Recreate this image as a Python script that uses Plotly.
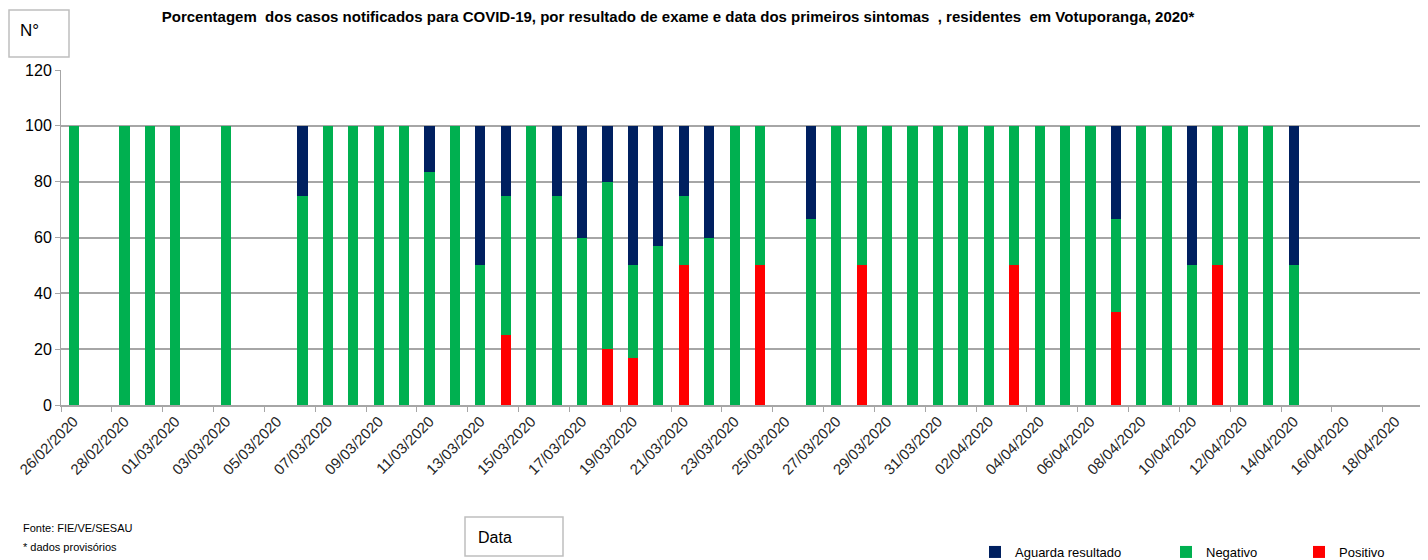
import plotly.graph_objects as go

dates = [
    "26/02/2020", "27/02/2020", "28/02/2020", "29/02/2020",
    "01/03/2020", "02/03/2020", "03/03/2020", "04/03/2020", "05/03/2020",
    "06/03/2020", "07/03/2020", "08/03/2020", "09/03/2020", "10/03/2020",
    "11/03/2020", "12/03/2020", "13/03/2020", "14/03/2020", "15/03/2020",
    "16/03/2020", "17/03/2020", "18/03/2020", "19/03/2020", "20/03/2020",
    "21/03/2020", "22/03/2020", "23/03/2020", "24/03/2020", "25/03/2020",
    "26/03/2020", "27/03/2020", "28/03/2020", "29/03/2020", "30/03/2020",
    "31/03/2020", "01/04/2020", "02/04/2020", "03/04/2020", "04/04/2020",
    "05/04/2020", "06/04/2020", "07/04/2020", "08/04/2020", "09/04/2020",
    "10/04/2020", "11/04/2020", "12/04/2020", "13/04/2020", "14/04/2020",
    "15/04/2020", "16/04/2020", "17/04/2020", "18/04/2020",
]

positivo = [
    0, 0, 0, 0,
    0, 0, 0, 0, 0,
    0, 0, 0, 0, 0,
    0, 0, 0, 25, 0,
    0, 0, 20, 16.7, 0,
    50, 0, 0, 50, 0,
    0, 0, 50, 0, 0,
    0, 0, 0, 50, 0,
    0, 0, 33.3, 0, 0,
    0, 50, 0, 0, 0,
    0, 0, 0, 0,
]

negativo = [
    100, 0, 100, 100,
    100, 0, 100, 0, 0,
    75, 100, 100, 100, 100,
    83.3, 100, 50, 50, 100,
    75, 60, 60, 33.3, 57.1,
    25, 60, 100, 50, 0,
    66.7, 100, 50, 100, 100,
    100, 100, 100, 50, 100,
    100, 100, 33.3, 100, 100,
    50, 50, 100, 100, 50,
    0, 0, 0, 0,
]

aguarda = [
    0, 0, 0, 0,
    0, 0, 0, 0, 0,
    25, 0, 0, 0, 0,
    16.7, 0, 50, 25, 0,
    25, 40, 20, 50, 42.9,
    25, 40, 0, 0, 0,
    33.3, 0, 0, 0, 0,
    0, 0, 0, 0, 0,
    0, 0, 33.4, 0, 0,
    50, 0, 0, 0, 50,
    0, 0, 0, 0,
]

# page body has an 8px margin: screen pixel = figure pixel + 8
OFF = 8
W, H = 1428 - OFF, 560 - OFF
L, R, T = 61 - OFF, 0, 70 - OFF
B = H - (405 - OFF)
plot_w = W - L - R
plot_h = H - T - B


def px(x):
    """screen x (px) -> paper x"""
    return (x - OFF - L) / plot_w


def py(y):
    """screen y (px) -> paper y"""
    return (H - B - (y - OFF)) / plot_h


def cx(x):
    return (x - OFF) / W


def cy(y):
    return 1 - (y - OFF) / H


FONT = "Liberation Sans"

fig = go.Figure()
fig.add_trace(go.Bar(x=dates, y=positivo, name="Positivo",
                     marker=dict(color="#FF0000", line=dict(width=0)),
                     legend="legend3"))
fig.add_trace(go.Bar(x=dates, y=negativo, name="Negativo",
                     marker=dict(color="#00B050", line=dict(width=0)),
                     legend="legend2"))
fig.add_trace(go.Bar(x=dates, y=aguarda, name="Aguarda resultado",
                     marker=dict(color="#002060", line=dict(width=0)),
                     legend="legend"))

leg_common = dict(orientation="h", xref="container", yref="container",
                  xanchor="left", yanchor="middle", bgcolor="rgba(0,0,0,0)",
                  font=dict(family=FONT, size=13, color="#000000"),
                  itemwidth=30)

fig.update_layout(
    width=W, height=H,
    margin=dict(l=L, r=R, t=T, b=B),
    paper_bgcolor="white", plot_bgcolor="white",
    barmode="stack", bargap=0.6,
    showlegend=True,
    title=dict(
        text="Porcentagem  dos casos notificados para COVID-19, por resultado de exame e data dos primeiros sintomas  , residentes  em Votuporanga, 2020*",
        xref="container", yref="container",
        x=cx(678), y=cy(17), xanchor="center", yanchor="middle",
        font=dict(family=FONT, size=15, color="#000000", weight="bold"),
    ),
    legend=dict(x=cx(975), y=cy(552), **leg_common),
    legend2=dict(x=cx(1166), y=cy(552), **leg_common),
    legend3=dict(x=cx(1299), y=cy(552), **leg_common),
    xaxis=dict(
        type="category",
        tickmode="linear", tick0=0, dtick=2,
        tickson="boundaries",
        ticks="outside", ticklen=5, tickcolor="#a6a6a6", tickwidth=1,
        showline=True, linecolor="#a6a6a6", linewidth=1.5,
        showgrid=False,
        tickangle=-45,
        tickfont=dict(family=FONT, size=15, color="#262626"),
        range=[-0.5, 53.28],
    ),
    yaxis=dict(
        range=[0, 120], dtick=20, tick0=0,
        showgrid=True, gridcolor="#a6a6a6", gridwidth=1.5,
        showline=True, linecolor="#a6a6a6", linewidth=1,
        ticks="outside", ticklen=5, tickcolor="#a6a6a6",
        zeroline=False,
        tickfont=dict(family=FONT, size=16, color="#000000"),
    ),
    shapes=[
        dict(type="rect", xref="paper", yref="paper",
             x0=px(9), x1=px(69), y0=py(57), y1=py(10),
             line=dict(color="#bfbfbf", width=1.5)),
        dict(type="rect", xref="paper", yref="paper",
             x0=px(465), x1=px(563), y0=py(556), y1=py(517),
             line=dict(color="#bfbfbf", width=1.5)),
    ],
    annotations=[
        dict(text="N°", xref="paper", yref="paper", x=px(18), y=py(30),
             xanchor="left", yanchor="middle", showarrow=False,
             font=dict(family=FONT, size=17, color="#000000")),
        dict(text="Data", xref="paper", yref="paper", x=px(476), y=py(537),
             xanchor="left", yanchor="middle", showarrow=False,
             font=dict(family=FONT, size=16, color="#000000")),
        dict(text="Fonte: FIE/VE/SESAU", xref="paper", yref="paper",
             x=px(21), y=py(528), xanchor="left", yanchor="middle",
             showarrow=False,
             font=dict(family=FONT, size=11, color="#000000")),
        dict(text="* dados provisórios", xref="paper", yref="paper",
             x=px(21), y=py(547), xanchor="left", yanchor="middle",
             showarrow=False,
             font=dict(family=FONT, size=11, color="#000000")),
    ],
)

fig.write_html("out.html")
